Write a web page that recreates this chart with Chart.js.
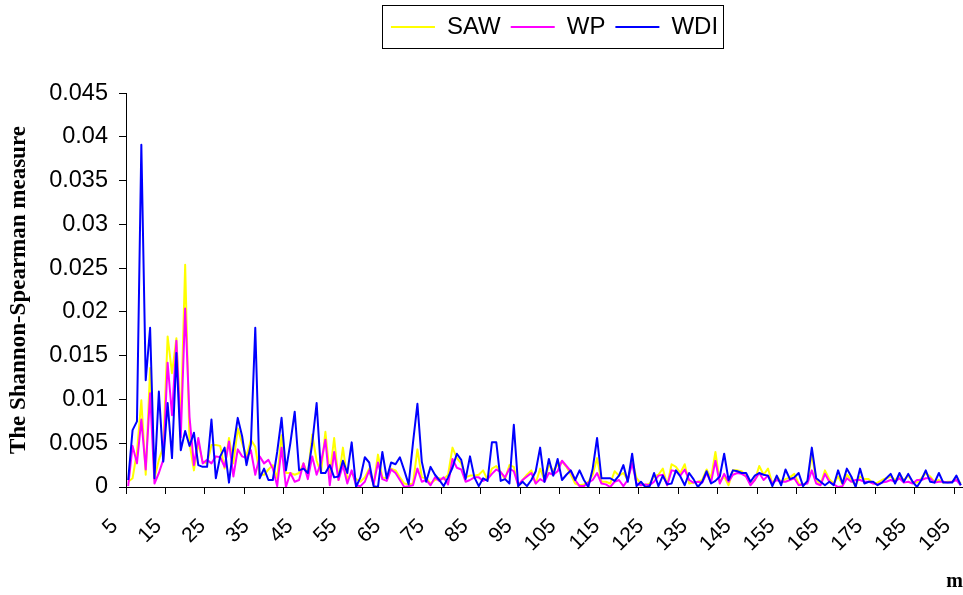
<!DOCTYPE html>
<html>
<head>
<meta charset="utf-8">
<script src="https://cdn.jsdelivr.net/npm/chart.js@4.4.1/dist/chart.umd.min.js"></script>
<style>
  html, body { margin: 0; padding: 0; background: #fff; overflow: hidden; }
  canvas { display: block; }
</style>
</head>
<body>
<canvas id="chart" width="963" height="595"></canvas>
<script>
// m = 5 .. 195
const mValues = Array.from({ length: 191 }, (_, i) => 5 + i);

// labelled m values on the horizontal axis
const xTickLabels = [5, 15, 25, 35, 45, 55, 65, 75, 85, 95, 105, 115, 125, 135, 145, 155, 165, 175, 185, 195];

// vertical axis labels, bottom to top
const yTickLabels = ['0', '0.005', '0.01', '0.015', '0.02', '0.025', '0.03', '0.035', '0.04', '0.045'];

const sawValues = [
  0.0006, 0.0010, 0.0040, 0.0099, 0.0014, 0.0136, 0.0010, 0.0031, 0.0046, 0.0172,
  0.0130, 0.0170, 0.0073, 0.0254, 0.0050, 0.0019, 0.0050, 0.0029, 0.0027, 0.0048,
  0.0048, 0.0047, 0.0021, 0.0056, 0.0027, 0.0067, 0.0050, 0.0035, 0.0054, 0.0046,
  0.0014, 0.0014, 0.0020, 0.0025, 0.0010, 0.0059, 0.0016, 0.0016, 0.0014, 0.0016,
  0.0027, 0.0014, 0.0060, 0.0030, 0.0016, 0.0063, 0.0014, 0.0056, 0.0008, 0.0045,
  0.0009, 0.0016, 0.0009, 0.0006, 0.0011, 0.0021, 0.0003, 0.0037, 0.0011, 0.0010,
  0.0021, 0.0019, 0.0011, 0.0004, 0.0003, 0.0004, 0.0043, 0.0011, 0.0010, 0.0004,
  0.0008, 0.0010, 0.0009, 0.0014, 0.0045, 0.0033, 0.0027, 0.0011, 0.0013, 0.0013,
  0.0014, 0.0019, 0.0008, 0.0021, 0.0024, 0.0017, 0.0009, 0.0025, 0.0023, 0.0001,
  0.0008, 0.0014, 0.0019, 0.0004, 0.0021, 0.0008, 0.0025, 0.0019, 0.0025, 0.0029,
  0.0023, 0.0014, 0.0004, 0.0002, 0.0003, 0.0006, 0.0014, 0.0033, 0.0006, 0.0006,
  0.0004, 0.0018, 0.0013, 0.0016, 0.0008, 0.0031, 0.0010, 0.0004, 0.0002, 0.0004,
  0.0012, 0.0014, 0.0021, 0.0002, 0.0026, 0.0023, 0.0016, 0.0026, 0.0004, 0.0005,
  0.0006, 0.0008, 0.0020, 0.0010, 0.0040, 0.0006, 0.0012, 0.0002, 0.0019, 0.0019,
  0.0018, 0.0012, 0.0004, 0.0008, 0.0024, 0.0014, 0.0021, 0.0004, 0.0012, 0.0006,
  0.0009, 0.0011, 0.0015, 0.0004, 0.0002, 0.0006, 0.0037, 0.0008, 0.0003, 0.0019,
  0.0009, 0.0004, 0.0012, 0.0003, 0.0014, 0.0008, 0.0002, 0.0012, 0.0009, 0.0009,
  0.0004, 0.0005, 0.0008, 0.0010, 0.0012, 0.0008, 0.0012, 0.0008, 0.0013, 0.0006,
  0.0005, 0.0010, 0.0016, 0.0012, 0.0006, 0.0008, 0.0005, 0.0006, 0.0006, 0.0009,
  0.0004
];

const wpValues = [
  0.0001, 0.0047, 0.0027, 0.0077, 0.0020, 0.0107, 0.0004, 0.0016, 0.0031, 0.0142,
  0.0082, 0.0167, 0.0057, 0.0204, 0.0080, 0.0025, 0.0056, 0.0027, 0.0031, 0.0027,
  0.0035, 0.0034, 0.0023, 0.0052, 0.0012, 0.0043, 0.0035, 0.0033, 0.0042, 0.0014,
  0.0035, 0.0027, 0.0031, 0.0021, 0.0001, 0.0045, 0.0000, 0.0016, 0.0006, 0.0008,
  0.0027, 0.0009, 0.0035, 0.0014, 0.0028, 0.0054, 0.0002, 0.0040, 0.0008, 0.0025,
  0.0004, 0.0019, 0.0002, 0.0001, 0.0006, 0.0019, 0.0003, 0.0028, 0.0009, 0.0007,
  0.0020, 0.0016, 0.0008, 0.0000, 0.0001, 0.0002, 0.0021, 0.0006, 0.0008, 0.0002,
  0.0011, 0.0007, 0.0011, 0.0003, 0.0032, 0.0022, 0.0020, 0.0006, 0.0008, 0.0011,
  0.0011, 0.0007, 0.0009, 0.0015, 0.0020, 0.0017, 0.0011, 0.0021, 0.0018, 0.0002,
  0.0008, 0.0012, 0.0016, 0.0004, 0.0009, 0.0006, 0.0016, 0.0014, 0.0018, 0.0030,
  0.0024, 0.0018, 0.0008, 0.0001, 0.0001, 0.0005, 0.0008, 0.0016, 0.0004, 0.0003,
  0.0000, 0.0006, 0.0008, 0.0001, 0.0008, 0.0027, 0.0004, 0.0002, 0.0003, 0.0002,
  0.0006, 0.0013, 0.0014, 0.0002, 0.0019, 0.0018, 0.0013, 0.0020, 0.0008, 0.0005,
  0.0006, 0.0005, 0.0016, 0.0005, 0.0030, 0.0004, 0.0015, 0.0006, 0.0014, 0.0016,
  0.0015, 0.0012, 0.0002, 0.0008, 0.0016, 0.0008, 0.0013, 0.0004, 0.0008, 0.0006,
  0.0006, 0.0008, 0.0010, 0.0002, 0.0003, 0.0004, 0.0019, 0.0004, 0.0002, 0.0015,
  0.0006, 0.0003, 0.0000, 0.0001, 0.0010, 0.0006, 0.0008, 0.0008, 0.0006, 0.0006,
  0.0004, 0.0003, 0.0005, 0.0006, 0.0008, 0.0006, 0.0010, 0.0005, 0.0006, 0.0004,
  0.0008, 0.0008, 0.0010, 0.0010, 0.0005, 0.0006, 0.0006, 0.0005, 0.0006, 0.0008,
  0.0002
];

const wdiValues = [
  0.0008, 0.0065, 0.0075, 0.0391, 0.0122, 0.0182, 0.0010, 0.0109, 0.0029, 0.0096,
  0.0033, 0.0153, 0.0042, 0.0064, 0.0047, 0.0062, 0.0025, 0.0023, 0.0023, 0.0077,
  0.0010, 0.0035, 0.0045, 0.0005, 0.0045, 0.0079, 0.0058, 0.0025, 0.0049, 0.0182,
  0.0010, 0.0021, 0.0008, 0.0008, 0.0040, 0.0079, 0.0019, 0.0050, 0.0086, 0.0019,
  0.0021, 0.0016, 0.0050, 0.0096, 0.0016, 0.0016, 0.0025, 0.0011, 0.0012, 0.0030,
  0.0016, 0.0051, 0.0000, 0.0011, 0.0034, 0.0028, 0.0001, 0.0000, 0.0040, 0.0010,
  0.0028, 0.0026, 0.0034, 0.0019, 0.0003, 0.0051, 0.0095, 0.0029, 0.0006, 0.0023,
  0.0014, 0.0008, 0.0001, 0.0011, 0.0022, 0.0038, 0.0031, 0.0009, 0.0035, 0.0011,
  0.0001, 0.0010, 0.0007, 0.0051, 0.0051, 0.0007, 0.0009, 0.0004, 0.0071, 0.0001,
  0.0006, 0.0001, 0.0008, 0.0018, 0.0045, 0.0006, 0.0032, 0.0013, 0.0032, 0.0008,
  0.0014, 0.0019, 0.0008, 0.0019, 0.0008, 0.0000, 0.0021, 0.0056, 0.0010, 0.0010,
  0.0010, 0.0007, 0.0013, 0.0025, 0.0006, 0.0038, 0.0001, 0.0006, 0.0000, 0.0001,
  0.0016, 0.0001, 0.0013, 0.0003, 0.0004, 0.0019, 0.0012, 0.0002, 0.0016, 0.0009,
  0.0000, 0.0006, 0.0018, 0.0004, 0.0007, 0.0012, 0.0038, 0.0008, 0.0019, 0.0018,
  0.0016, 0.0016, 0.0006, 0.0013, 0.0016, 0.0014, 0.0013, 0.0001, 0.0013, 0.0002,
  0.0020, 0.0009, 0.0011, 0.0016, 0.0001, 0.0007, 0.0045, 0.0010, 0.0006, 0.0002,
  0.0006, 0.0002, 0.0019, 0.0004, 0.0021, 0.0012, 0.0000, 0.0021, 0.0004, 0.0006,
  0.0006, 0.0002, 0.0005, 0.0010, 0.0015, 0.0004, 0.0016, 0.0006, 0.0015, 0.0006,
  0.0000, 0.0008, 0.0019, 0.0006, 0.0005, 0.0016, 0.0005, 0.0005, 0.0005, 0.0013,
  0.0002
];

const seriesNames = ['SAW', 'WP', 'WDI'];
const seriesColors = ['#FFFF00', '#FF00FF', '#0000FF'];

// Frame round the legend row; the row is nudged to sit over the middle of the plot.
const legendFrame = {
  id: 'legendFrame',
  afterLayout(chart) {
    const lg = chart.legend;
    if (!lg) return;
    lg.left += 10;
    lg.right += 10;
  },
  afterDraw(chart) {
    const boxes = chart.legend && chart.legend.legendHitBoxes;
    if (!boxes || !boxes.length) return;
    const first = boxes[0];
    const last = boxes[boxes.length - 1];
    const x0 = Math.round(first.left - 9) + 0.5;
    const x1 = Math.round(last.left + last.width + 5) + 0.5;
    const y0 = Math.round(first.top - 10) + 0.5;
    const y1 = Math.round(first.top + first.height + 9) + 0.5;
    const ctx = chart.ctx;
    ctx.save();
    ctx.strokeStyle = '#000';
    ctx.lineWidth = 1;
    ctx.strokeRect(x0, y0, x1 - x0, y1 - y0);
    ctx.restore();
  }
};

const lineSet = (i, data, order) => ({
  label: seriesNames[i],
  data: data,
  borderColor: seriesColors[i],
  backgroundColor: seriesColors[i],
  borderWidth: 2,
  pointRadius: 0,
  tension: 0,
  fill: false,
  borderJoinStyle: 'round',
  order: order
});

new Chart(document.getElementById('chart'), {
  type: 'line',
  data: {
    labels: mValues,
    datasets: [
      lineSet(0, sawValues, 2),
      lineSet(1, wpValues, 1),
      lineSet(2, wdiValues, 0)
    ]
  },
  options: {
    responsive: false,
    devicePixelRatio: 1,
    animation: false,
    events: [],
    layout: { padding: { top: 5, left: 0, right: 0, bottom: 0 }, autoPadding: false },
    plugins: {
      tooltip: { enabled: false },
      legend: {
        position: 'top',
        fullSize: false,
        labels: {
          boxWidth: 44,
          boxHeight: 2,
          padding: 10,
          color: '#000',
          font: { family: 'Liberation Sans', size: 24 },
          sort: (a, b) => a.datasetIndex - b.datasetIndex,
          generateLabels(chart) {
            const items = Chart.defaults.plugins.legend.labels.generateLabels(chart);
            items.forEach(it => { it.fillStyle = it.strokeStyle; it.lineWidth = 0; });
            return items;
          }
        }
      },
      // empty spacer between the legend and the plot
      subtitle: {
        display: true,
        text: '',
        weight: 500,
        font: { size: 1 },
        padding: { top: 43, bottom: 0 }
      }
    },
    scales: {
      x: {
        type: 'category',
        offset: true,
        grid: {
          offset: true,
          drawOnChartArea: false,
          drawTicks: true,
          tickLength: 7,
          lineWidth: 1,
          tickColor: c => (c.index % 9 === 0 ? '#000' : 'rgba(0,0,0,0)')
        },
        border: { display: true, color: '#000', width: 1 },
        ticks: {
          autoSkip: false,
          minRotation: 45,
          maxRotation: 45,
          padding: 20,
          labelOffset: -13.5,
          color: '#000',
          font: { family: 'Liberation Sans', size: 21 },
          callback: (v, i) => (xTickLabels.includes(mValues[i]) ? String(mValues[i]) : '')
        },
        title: {
          display: true,
          text: 'm',
          align: 'end',
          color: '#000',
          font: { family: 'Liberation Serif', weight: 'bold', size: 20 },
          padding: { top: 0, bottom: 1 }
        },
        afterFit(scale) {
          scale.height = 108;
          // keep the plot running to the right-hand edge
          scale.paddingLeft = 0;
          scale.paddingRight = 0;
        }
      },
      y: {
        min: 0,
        max: 0.045,
        grid: {
          drawOnChartArea: false,
          drawTicks: true,
          tickLength: 7,
          tickColor: '#000'
        },
        border: { display: true, color: '#000', width: 1 },
        ticks: {
          stepSize: 0.005,
          padding: 11,
          color: '#000',
          font: { family: 'Liberation Sans', size: 23.5 },
          callback: (v, i) => yTickLabels[i]
        },
        title: {
          display: true,
          text: 'The Shannon-Spearman measure',
          color: '#000',
          font: { family: 'Liberation Serif', weight: 'bold', size: 23 },
          padding: { top: 5, bottom: 0 }
        },
        afterFit(scale) { scale.width = 126; }
      }
    }
  },
  plugins: [legendFrame]
});
</script>
</body>
</html>
